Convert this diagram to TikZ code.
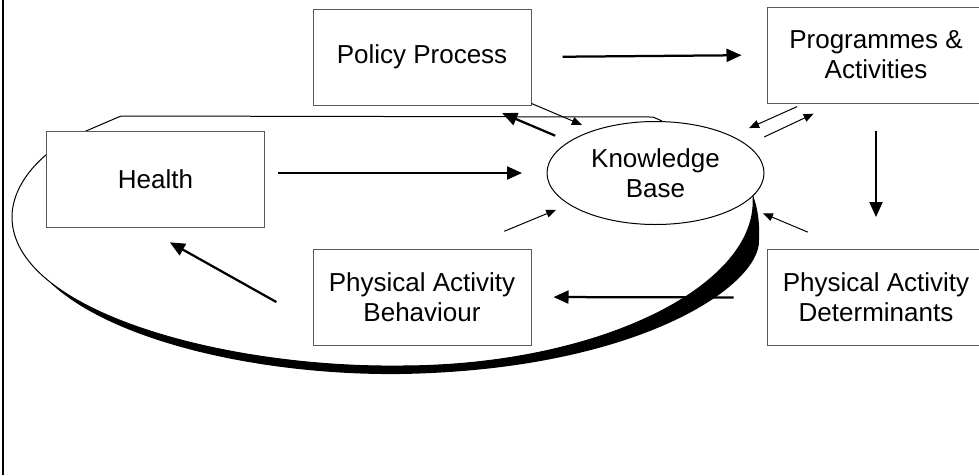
\documentclass[tikz,border=0pt]{standalone}
\usepackage{fontspec}
\setmainfont{Liberation Sans}
\usetikzlibrary{arrows.meta,shapes.geometric}

\begin{document}
\begin{tikzpicture}[x=1pt,y=-1pt,
  box node/.style={rectangle,draw=black!65,line width=1pt,fill=white,minimum width=218pt,minimum height=96pt,inner sep=0pt,align=center,font=\fontsize{26}{30}\selectfont},
  base node/.style={ellipse,draw,line width=1pt,fill=white,minimum width=217pt,minimum height=103pt,inner sep=0pt,align=center,font=\fontsize{26}{30}\selectfont},
  big arrow/.style={-{Triangle[length=15pt,width=13pt]},line width=2.25pt},
  small arrow/.style={-{Triangle[length=10pt,width=8pt]},line width=1pt}]

  \useasboundingbox (0,0) rectangle (979,475);
  \draw[line width=2pt] (3,0) -- (3,475);

  % the loop, behind the nodes
  \draw[line width=1pt] (662,121) -- (653,117) -- (121,116) -- (86,131)
    .. controls (40,150) and (12,185) .. (12,217)
    .. controls (12,310) and (220,368) .. (400,366)
    .. controls (600,366) and (760,285) .. (753,196);
  \fill (47.3,279.8) .. controls (114.25,335.25) and (265,367.5) .. (400,366)
    .. controls (600,366) and (760,285) .. (753,196)
    .. controls (757,205) and (760,222) .. (759,240)
    .. controls (761,285) and (640,370) .. (400,374)
    .. controls (260,375.5) and (108,341) .. (47.3,279.8) -- cycle;

  \foreach \place/\name/\txt in {
    {(422,57)/policy/Policy Process},
    {(876,55)/prog/Programmes \&\\Activities},
    {(155.5,179)/health/Health},
    {(422,297)/beh/Physical Activity\\Behaviour},
    {(876,297.5)/det/Physical Activity\\Determinants}}
  \node[box node] (\name) at \place {\txt};

  \node[base node] (kb) at (655.5,173) {Knowledge\\Base};

  \path[big arrow]
    (policy.east) edge[shorten <=31pt,shorten >=25pt] (prog.west)
    (health.east |- kb.west) edge[shorten <=13pt,shorten >=24.5pt] (kb.west)
    (prog.south) edge[shorten <=27pt,shorten >=32pt] (det.north)
    (det.west) edge[shorten <=33pt,shorten >=22pt] (beh.east)
    (beh.193.7) edge[shorten <=41.4pt,shorten >=30.3pt] (health.256)
    (kb.160.9) edge[shorten <=14.8pt,shorten >=19.7pt] (policy.322.7);

  \path[small arrow]
    (policy.337.8) edge[shorten >=13.3pt] (kb.145.7)
    (prog.214) edge[shorten <=7.6pt,shorten >=19pt] (kb.26.7)
    (kb.17.1) edge[shorten <=18.8pt,shorten >=23.9pt] (prog.230.7)
    (beh.50.7) edge[shorten <=45pt,shorten >=13.7pt] (kb.200.4)
    (det.120.6) edge[shorten <=43.7pt,shorten >=22.5pt] (kb.340.1);
\end{tikzpicture}
\end{document}
